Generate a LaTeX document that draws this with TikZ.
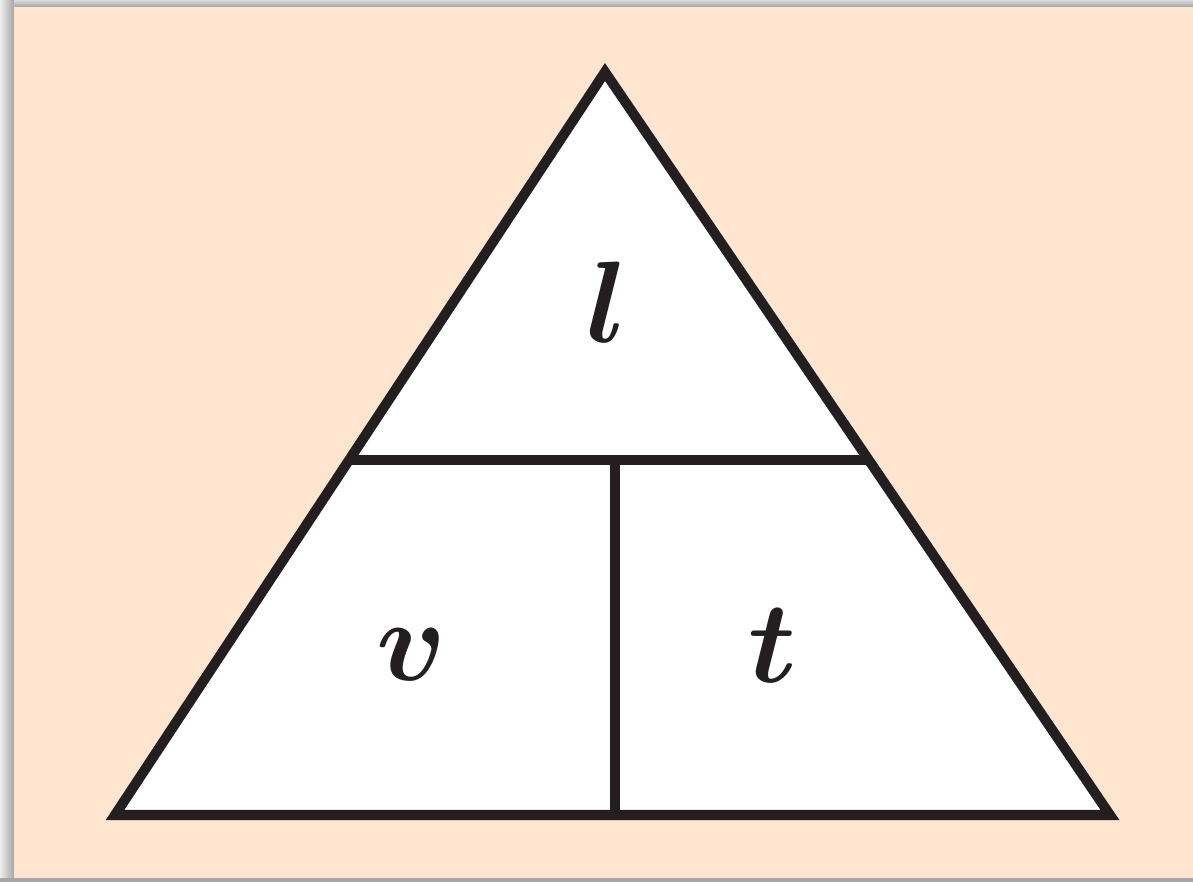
\documentclass[tikz,border=0pt]{standalone}
\usepackage{fix-cm}
\usepackage{tikz}
\usetikzlibrary{calc,positioning}
\definecolor{trpeach}{RGB}{253,229,208}
\definecolor{trink}{RGB}{35,31,32}
\definecolor{trshade}{RGB}{165,165,165}

\begin{document}
\begin{tikzpicture}[
  x=0.01cm, y=-0.01cm,
  every node/.style={font=\fontsize{33}{40}\selectfont\boldmath, text=trink},
  edge/.style={draw=trink, line width=0.1cm, line join=miter},
  part/.style={inner sep=0pt}
]
  % page with its shadow
  \useasboundingbox (0,0) rectangle (1193,882);
  \fill[white] (0,0) rectangle (1193,882);
  \shade[left color=white!80!trshade, right color=trshade] (0,0) rectangle (14,882);
  \shade[top color=white!60!trshade, bottom color=trshade] (14,0) rectangle (1193,7);
  \fill[trshade] (0,878) rectangle (1193,882);
  \fill[trpeach] (14,7) rectangle (1193,878);

  \coordinate (top) at (605,72);
  \coordinate (bl) at (115,815);
  \coordinate (br) at (1110,815);
  \coordinate (ml) at ($(top)!0.522!(bl)$);
  \coordinate (mr) at ($(top)!0.522!(br)$);
  \coordinate (mid) at (615,460);
  \coordinate (bot) at (615,815);

  \fill[white] (top) -- (bl) -- (br) -- cycle;
  \draw[edge] (top) -- (bl) -- (br) -- cycle;
  \draw[edge] (ml) -- (mr);
  \draw[edge] (mid) -- (bot);

  \node[part] (length) at (607,302) {$l$};
  \node[part] (speed) at (412,655) {$v$};
  \node[part] (time) at (773,646) {$t$};
\end{tikzpicture}
\end{document}
